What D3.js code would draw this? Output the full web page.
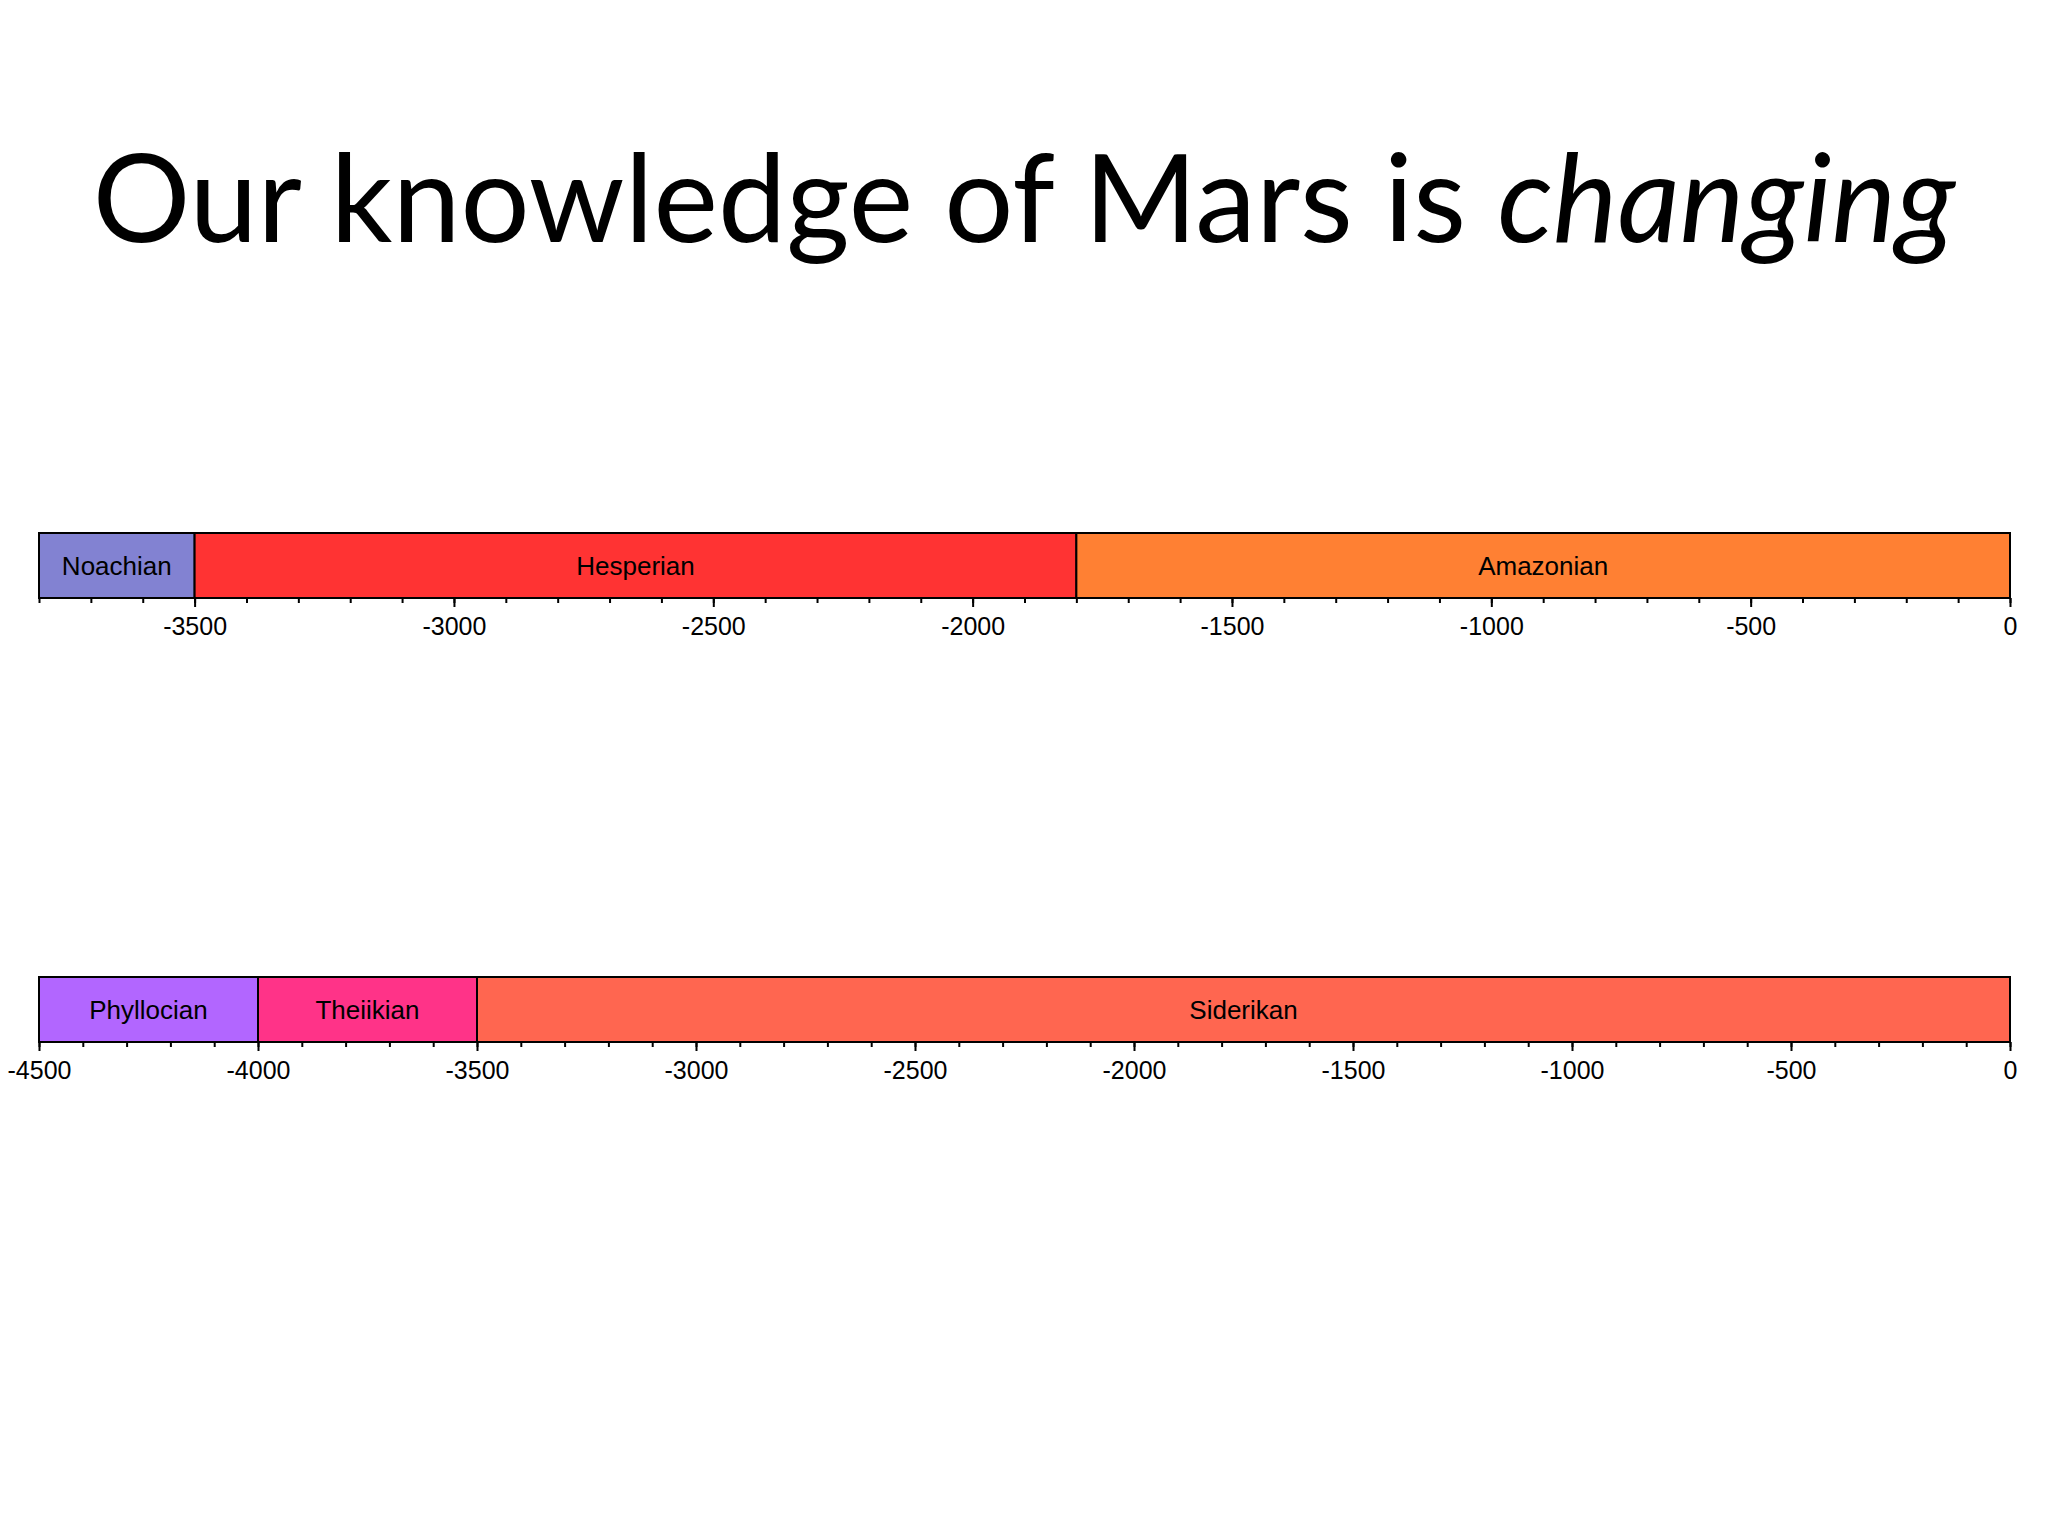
<!DOCTYPE html>
<html><head><meta charset="utf-8">
<script src="https://cdn.jsdelivr.net/npm/d3@7"></script>
<style>body{margin:0;background:#fff}</style></head>
<body><svg id="c" width="2048" height="1536"></svg>
<script>
const topNames=["Noachian","Hesperian","Amazonian"];
const topStarts=[-3800,-3500,-1800];
const topEnds=[-3500,-1800,0];
const topColors=["#8282d2","#ff3333","#ff8033"];
const botNames=["Phyllocian","Theiikian","Siderikan"];
const botStarts=[-4500,-4000,-3500];
const botEnds=[-4000,-3500,0];
const botColors=["#b266ff","#ff3388","#ff6650"];
const topTicks=[-3500,-3000,-2500,-2000,-1500,-1000,-500,0];
const botTicks=[-4500,-4000,-3500,-3000,-2500,-2000,-1500,-1000,-500,0];

const svg=d3.select("#c");
svg.append("text").attr("x",1024).attr("y",242).attr("text-anchor","middle")
 .attr("font-family","Lato, 'Open Sans', sans-serif").attr("font-size",122)
 .html('Our knowledge of Mars is <tspan font-style="italic">changing</tspan>');

function band(names,starts,ends,colors,ticks,domain,y){
  const x=d3.scaleLinear().domain(domain).range([39,2010]);
  const h=65;
  const g=svg.append("g");
  names.forEach((n,i)=>{
    g.append("rect").attr("x",x(starts[i])).attr("y",y).attr("width",x(ends[i])-x(starts[i])).attr("height",h)
     .attr("fill",colors[i]).attr("stroke","#000").attr("stroke-width",2);
    g.append("text").attr("x",(x(starts[i])+x(ends[i]))/2).attr("y",y+h/2+9).attr("text-anchor","middle")
     .attr("font-family","'Liberation Sans', Arial, sans-serif").attr("font-size",26).text(n);
  });
  const minor=d3.range(domain[0],domain[1]+1,100);
  const ax=g.append("g").attr("transform",`translate(0,${y+h})`)
   .call(d3.axisBottom(x).tickValues(minor).tickSize(5).tickFormat(""));
  ax.select(".domain").remove();
  ax.selectAll("line").attr("stroke","#000").attr("stroke-width",2);
  const ax2=g.append("g").attr("transform",`translate(0,${y+h})`)
   .call(d3.axisBottom(x).tickValues(ticks).tickSize(9).tickPadding(10).tickFormat(d=>d<0?"-"+(-d):d));
  ax2.select(".domain").remove();
  ax2.selectAll("line").attr("stroke","#000").attr("stroke-width",2);
  ax2.selectAll("text").attr("font-family","'Liberation Sans', Arial, sans-serif").attr("font-size",25).attr("fill","#000");
}
band(topNames,topStarts,topEnds,topColors,topTicks,[-3800,0],533);
band(botNames,botStarts,botEnds,botColors,botTicks,[-4500,0],977);
</script></body></html>
